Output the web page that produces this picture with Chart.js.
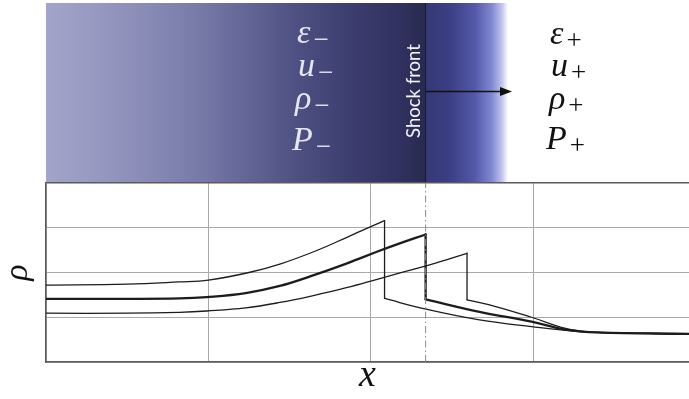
<!DOCTYPE html>
<html>
<head>
<meta charset="utf-8">
<script src="https://cdn.jsdelivr.net/npm/chart.js@4/dist/chart.umd.min.js"></script>
<style>
  html, body { margin: 0; padding: 0; background: #fff; }
  #wrap { position: relative; width: 689px; height: 399px; overflow: hidden; }
  #plot { position: absolute; left: 0; top: 0; z-index: 2; }
  .panel {
    position: absolute; left: 46px; top: 3px; width: 462px; height: 180px; z-index: 1;
    background: linear-gradient(to right,
      #a2a4c9 0px, #9698c1 54px, #888ab6 104px, #7779a7 154px, #626495 204px,
      #4d4f81 254px, #3c3e6f 304px, #30315f 354px, #292a50 379px,
      #363976 380px, #3b3f84 404px, #5359a8 429px, #8289d2 446px,
      #c1c5ed 456px, #ffffff 462px);
  }
  .front-edge { position: absolute; left: 425px; top: 3px; width: 1px; height: 180px; background: rgba(20,20,45,0.85); z-index: 1; }
  .m { position: absolute; font-family: 'Liberation Serif'; font-style: italic; font-size: 34px; line-height: 34px; height: 34px; white-space: nowrap; z-index: 3; }
  .m sub { font-family: 'Liberation Serif'; font-style: normal; font-size: 27px; vertical-align: -5px; margin-left: 3px; }
  .up { color: #e6e6f3; }
  .dn { color: #111; }
  .shock {
    position: absolute; left: 413px; top: 91px; z-index: 3;
    transform: translate(-50%, -50%) rotate(-90deg);
    font-family: Lato; font-size: 18.5px; color: #f2f2fa; white-space: nowrap;
  }
  .arrow { position: absolute; left: 426px; top: 84px; z-index: 3; }
</style>
</head>
<body>
<div id="wrap">
  <div class="panel"></div>
  <div class="front-edge"></div>

  <div class="m up" style="left:297px; top:15px">ε<sub>−</sub></div>
  <div class="m up" style="left:298px; top:48px">u<sub>−</sub></div>
  <div class="m up" style="left:295px; top:81px">ρ<sub>−</sub></div>
  <div class="m up" style="left:292px; top:122px">P<sub>−</sub></div>

  <div class="shock">Shock front</div>
  <svg class="arrow" width="90" height="16" viewBox="0 0 90 16">
    <line x1="0" y1="7.5" x2="76" y2="7.5" stroke="#111" stroke-width="1.4"/>
    <polygon points="74,3 86,7.5 74,12" fill="#111"/>
  </svg>

  <div class="m dn" style="left:550px; top:16px">ε<sub>+</sub></div>
  <div class="m dn" style="left:551px; top:48px">u<sub>+</sub></div>
  <div class="m dn" style="left:549px; top:81px">ρ<sub>+</sub></div>
  <div class="m dn" style="left:546px; top:121px">P<sub>+</sub></div>

  <canvas id="plot" width="689" height="399"></canvas>
</div>
<script>
// Grid positions on both axes
const xGrid = [0, 1, 2, 3];
const yGrid = [0, 1, 2, 3, 4];
const xMax = 3.96;
const yMax = 4;

// Position of the shock front marked by the dash-dot line
const frontX = 2.338;

// Earlier profile: rising part, then the post-jump relaxation
const earlyRiseX = [0, 0.5, 0.82, 1.0, 1.25, 1.45, 1.66, 1.85, 1.99, 2.085];
const earlyRiseY = [1.72, 1.74, 1.79, 1.83, 2.00, 2.20, 2.48, 2.78, 3.01, 3.16];
const earlyTailX = [2.085, 2.34, 2.67, 2.99, 3.28, 3.5, 3.96];
const earlyTailY = [1.42, 1.18, 0.94, 0.79, 0.68, 0.65, 0.63];

// Current profile (heavy line), jump located at the front
const nowRiseX = [0, 0.5, 0.82, 0.99, 1.23, 1.44, 1.64, 1.85, 2.05, 2.17, 2.338];
const nowRiseY = [1.41, 1.41, 1.42, 1.45, 1.54, 1.70, 1.93, 2.20, 2.48, 2.64, 2.85];
const nowTailX = [2.338, 2.67, 2.99, 3.19, 3.4, 3.96];
const nowTailY = [1.40, 1.12, 0.90, 0.73, 0.66, 0.63];

// Later profile
const lateRiseX = [0, 0.5, 0.82, 0.99, 1.23, 1.44, 1.64, 1.85, 2.05, 2.17, 2.34, 2.47, 2.593];
const lateRiseY = [1.09, 1.09, 1.11, 1.14, 1.21, 1.33, 1.48, 1.66, 1.86, 1.98, 2.15, 2.29, 2.43];
const lateTailX = [2.593, 2.77, 2.99, 3.2, 3.32, 3.5, 3.96];
const lateTailY = [1.39, 1.24, 1.00, 0.75, 0.68, 0.65, 0.63];

const pts = (xs, ys) => xs.map((x, i) => ({ x, y: ys[i] }));
const jump = (rx, ry, tx, ty) => [
  { x: rx[rx.length - 1], y: ry[ry.length - 1] },
  { x: tx[0], y: ty[0] }
];

const INK = '#1c1c1c';
function profile(label, rx, ry, tx, ty, width) {
  const base = {
    borderColor: INK, borderWidth: width, pointRadius: 0,
    fill: false, borderJoinStyle: 'round', borderCapStyle: 'round'
  };
  return [
    Object.assign({ label: label + ' rise', data: pts(rx, ry), tension: 0.4 }, base),
    Object.assign({ label: label + ' jump', data: jump(rx, ry, tx, ty), tension: 0 }, base),
    Object.assign({ label: label + ' tail', data: pts(tx, ty), tension: 0.4 }, base)
  ];
}

const datasets = [
  {
    label: 'front', data: [{ x: frontX, y: 0 }, { x: frontX, y: yMax }],
    borderColor: '#8a8a8a', borderWidth: 1, borderDash: [7, 3, 1.5, 3], pointRadius: 0, tension: 0
  },
  ...profile('early', earlyRiseX, earlyRiseY, earlyTailX, earlyTailY, 1.3),
  ...profile('now', nowRiseX, nowRiseY, nowTailX, nowTailY, 2.3),
  ...profile('late', lateRiseX, lateRiseY, lateTailX, lateTailY, 1.3)
];

const mathFont = { family: "'Liberation Serif'", style: 'italic' };

function draw() {
  new Chart(document.getElementById('plot'), {
    type: 'line',
    data: { datasets },
    options: {
      responsive: false,
      animation: false,
      devicePixelRatio: 1,
      layout: { padding: { top: 183, right: 0, bottom: 0, left: 0 } },
      plugins: { legend: { display: false }, tooltip: { enabled: false } },
      scales: {
        x: {
          type: 'linear', position: 'bottom', min: 0, max: xMax,
          afterBuildTicks: s => { s.ticks = xGrid.map(v => ({ value: v })); },
          afterFit: s => { s.height = 37; },
          ticks: { display: false },
          grid: { color: '#a9a9a9', lineWidth: 1, drawTicks: false },
          border: { display: true, color: '#5a5a5a', width: 1.5 },
          title: {
            display: true, text: 'x', color: '#111',
            font: Object.assign({ size: 38 }, mathFont),
            padding: { top: 0, bottom: 0 }
          }
        },
        y: {
          type: 'linear', position: 'left', min: 0, max: yMax,
          afterBuildTicks: s => { s.ticks = yGrid.map(v => ({ value: v })); },
          afterFit: s => { s.width = 46; },
          ticks: { display: false },
          grid: {
            color: c => (c.tick && c.tick.value === yMax ? '#5a5a5a' : '#a9a9a9'),
            lineWidth: c => (c.tick && c.tick.value === yMax ? 1.5 : 1),
            drawTicks: false
          },
          border: { display: true, color: '#5a5a5a', width: 1.5 },
          title: {
            display: true, text: 'ρ', color: '#111',
            font: Object.assign({ size: 34, lineHeight: 0.95 }, mathFont),
            padding: { top: 2, bottom: 0 }
          }
        }
      }
    }
  });
}

// Make sure the italic serif face is ready before the canvas text is drawn
if (document.fonts && document.fonts.load) {
  document.fonts.load("italic 34px 'Liberation Serif'").then(draw, draw);
} else {
  draw();
}
</script>
</body>
</html>
